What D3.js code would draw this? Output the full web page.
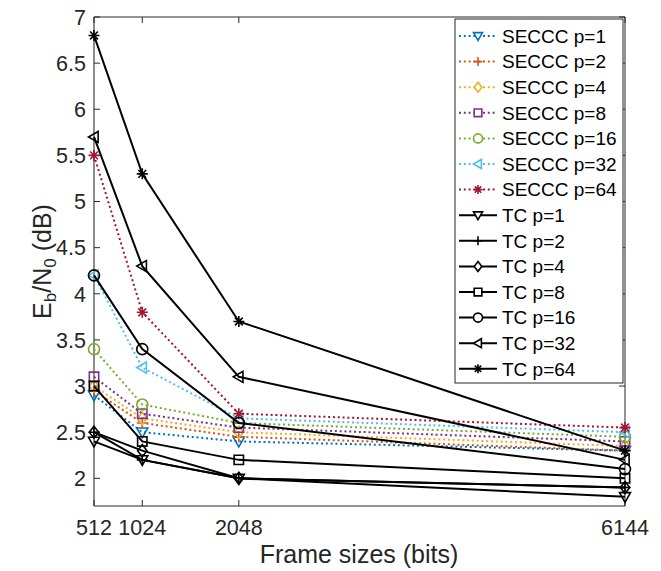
<!DOCTYPE html>
<html>
<head>
<meta charset="utf-8">
<script src="https://cdn.jsdelivr.net/npm/d3@7"></script>
<style>
  html, body { margin: 0; padding: 0; background: #fff; }
  svg { display: block; font-family: "Liberation Sans", Arial, Helvetica, sans-serif; }
</style>
</head>
<body>
<svg id="chart" width="661" height="571"></svg>
<script>
// ---- data ----
const frameSizes = [512, 1024, 2048, 6144];
const xTickLabels = ['512', '1024', '2048', '6144'];
const yTicks = [2, 2.5, 3, 3.5, 4, 4.5, 5, 5.5, 6, 6.5, 7];
const pValues = [1, 2, 4, 8, 16, 32, 64];
const markerTypes = ['v', '+', 'd', 's', 'o', '<', '*'];
const secccColors = ['#0072BD', '#D95319', '#EDB120', '#7E2F8E', '#77AC30', '#4DBEEE', '#A2142F'];

// Eb/N0 (dB) per frame size, one row per p
const secccValues = [
  [2.9, 2.5, 2.4, 2.3],
  [2.95, 2.6, 2.45, 2.3],
  [3.0, 2.65, 2.5, 2.35],
  [3.1, 2.7, 2.55, 2.4],
  [3.4, 2.8, 2.6, 2.45],
  [4.2, 3.2, 2.65, 2.5],
  [5.5, 3.8, 2.7, 2.55]
];
const tcValues = [
  [2.4, 2.2, 2.0, 1.8],
  [2.5, 2.2, 2.0, 1.9],
  [2.5, 2.3, 2.0, 1.9],
  [3.0, 2.4, 2.2, 2.0],
  [4.2, 3.4, 2.6, 2.1],
  [5.7, 4.3, 3.1, 2.2],
  [6.8, 5.3, 3.7, 2.3]
];

// ---- layout ----
const svg = d3.select('#chart');
const axLeft = 94, axRight = 625, axTop = 17, axBottom = 506;

const x = d3.scaleLinear().domain([512, 6144]).range([axLeft, axRight]);
const y = d3.scaleLinear().domain([1.7, 7]).range([axBottom, axTop]);

// build series list: SECCC first, TC drawn on top
const series = [];
pValues.forEach((p, i) => {
  series.push({ name: 'SECCC p=' + p, color: secccColors[i], dotted: true, marker: markerTypes[i], values: secccValues[i] });
});
pValues.forEach((p, i) => {
  series.push({ name: 'TC p=' + p, color: '#000000', dotted: false, marker: markerTypes[i], values: tcValues[i] });
});

function markerPath(type, s) {
  const h = s / 2;
  switch (type) {
    case 'v': return `M${-h},${-h * 0.75}L${h},${-h * 0.75}L0,${h}Z`;
    case '<': return `M${h * 0.75},${-h}L${h * 0.75},${h}L${-h},0Z`;
    case 'd': return `M0,${-h * 1.1}L${h * 0.85},0L0,${h * 1.1}L${-h * 0.85},0Z`;
    case 's': return `M${-h * 0.85},${-h * 0.85}H${h * 0.85}V${h * 0.85}H${-h * 0.85}Z`;
    case 'o': return `M${h},0A${h},${h} 0 1,1 ${-h},0A${h},${h} 0 1,1 ${h},0Z`;
    case '+': return `M${-h},0H${h}M0,${-h}V${h}`;
    case '*': {
      const d = h * 0.71;
      return `M${-h},0H${h}M0,${-h}V${h}M${-d},${-d}L${d},${d}M${-d},${d}L${d},${-d}`;
    }
  }
}

// axes box
const axisG = svg.append('g');
axisG.append('line').attr('x1', axLeft).attr('x2', axRight).attr('y1', axTop).attr('y2', axTop)
  .attr('stroke', '#262626').attr('stroke-width', 1);
axisG.append('line').attr('x1', axLeft).attr('x2', axRight).attr('y1', axBottom).attr('y2', axBottom)
  .attr('stroke', '#262626').attr('stroke-width', 1);
axisG.append('line').attr('x1', axLeft).attr('x2', axLeft).attr('y1', axTop).attr('y2', axBottom)
  .attr('stroke', '#8c8c8c').attr('stroke-width', 2);
axisG.append('line').attr('x1', axRight).attr('x2', axRight).attr('y1', axTop).attr('y2', axBottom)
  .attr('stroke', '#262626').attr('stroke-width', 1);

// ticks (inside) on all four sides
const tickLen = 6;
frameSizes.forEach(v => {
  axisG.append('line').attr('x1', x(v)).attr('x2', x(v)).attr('y1', axBottom).attr('y2', axBottom - tickLen).attr('stroke', '#262626');
  axisG.append('line').attr('x1', x(v)).attr('x2', x(v)).attr('y1', axTop).attr('y2', axTop + tickLen).attr('stroke', '#262626');
});
yTicks.forEach(v => {
  axisG.append('line').attr('x1', axLeft).attr('x2', axLeft + tickLen).attr('y1', y(v)).attr('y2', y(v)).attr('stroke', '#262626');
  axisG.append('line').attr('x1', axRight).attr('x2', axRight - tickLen).attr('y1', y(v)).attr('y2', y(v)).attr('stroke', '#262626');
});

// tick labels
axisG.selectAll('.xlab').data(frameSizes).join('text')
  .attr('x', d => x(d)).attr('y', 535)
  .attr('text-anchor', 'middle').attr('font-size', 21.5).attr('fill', '#262626')
  .text((d, i) => xTickLabels[i]);
axisG.selectAll('.ylab').data(yTicks).join('text')
  .attr('x', 86).attr('y', d => y(d)).attr('dy', '0.36em')
  .attr('text-anchor', 'end').attr('font-size', 21.5).attr('fill', '#262626')
  .text(d => d);

// axis titles
svg.append('text').attr('x', 359).attr('y', 563)
  .attr('text-anchor', 'middle').attr('font-size', 25).attr('fill', '#262626')
  .text('Frame sizes (bits)');
const yt = svg.append('text')
  .attr('transform', `translate(51,${(axTop + axBottom) / 2}) rotate(-90)`)
  .attr('text-anchor', 'middle').attr('font-size', 25).attr('fill', '#262626');
yt.append('tspan').text('E');
yt.append('tspan').attr('font-size', 17).attr('dy', 5).text('b');
yt.append('tspan').attr('dy', -5).text('/N');
yt.append('tspan').attr('font-size', 17).attr('dy', 5).text('0');
yt.append('tspan').attr('dy', -5).text(' (dB)');

// lines and markers
const line = d3.line().x((d, i) => x(frameSizes[i])).y(d => y(d));
const plotG = svg.append('g');
series.forEach(s => {
  plotG.append('path').datum(s.values)
    .attr('d', line).attr('fill', 'none')
    .attr('stroke', s.color).attr('stroke-width', 2)
    .attr('stroke-dasharray', s.dotted ? '2,2.8' : null);
  plotG.selectAll(null).data(s.values).join('path')
    .attr('transform', (d, i) => `translate(${x(frameSizes[i])},${y(d)})`)
    .attr('d', markerPath(s.marker, 11))
    .attr('fill', 'none').attr('stroke', s.color).attr('stroke-width', 1.6);
});

// legend
const lg = svg.append('g');
const lgX = 455, lgY = 19, lgW = 168, lgH = 364;
lg.append('rect').attr('x', lgX).attr('y', lgY).attr('width', lgW).attr('height', lgH)
  .attr('fill', '#fff').attr('stroke', '#262626').attr('stroke-width', 1);
series.forEach((s, i) => {
  const ry = 36 + i * 25.6;
  lg.append('line').attr('x1', 459).attr('x2', 497).attr('y1', ry).attr('y2', ry)
    .attr('stroke', s.color).attr('stroke-width', 2)
    .attr('stroke-dasharray', s.dotted ? '2,2.8' : null);
  lg.append('path').attr('transform', `translate(478,${ry})`)
    .attr('d', markerPath(s.marker, 9))
    .attr('fill', '#fff').attr('stroke', s.color).attr('stroke-width', 1.6);
  lg.append('text').attr('x', 502).attr('y', ry).attr('dy', '0.36em')
    .attr('font-size', 19).attr('fill', '#000').text(s.name);
});
</script>
</body>
</html>
